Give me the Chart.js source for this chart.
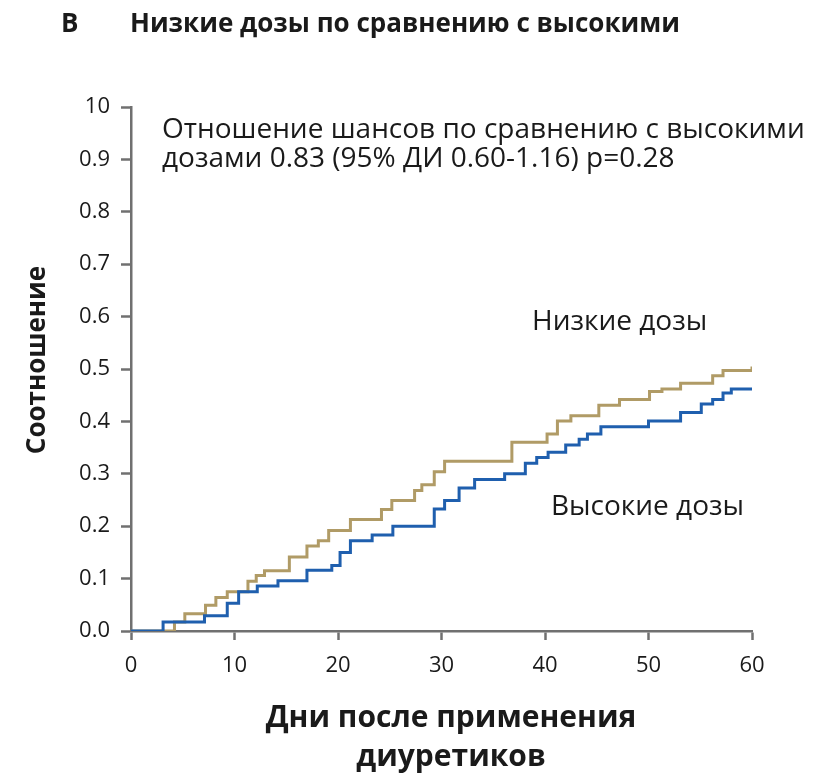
<!DOCTYPE html>
<html>
<head>
<meta charset="utf-8">
<script src="https://cdn.jsdelivr.net/npm/chart.js@4.4.1/dist/chart.umd.min.js"></script>
<style>
  html, body { margin: 0; padding: 0; background: #ffffff; }
  #wrap { width: 833px; height: 779px; position: relative; }
</style>
</head>
<body>
<div id="wrap"><canvas id="chart" width="833" height="779"></canvas></div>
<script>
// Cumulative proportion by day: each point marks the day the curve steps up and its new level.
const highDoseDays = [0, 3.1, 7.1, 9.3, 10.4, 12.2, 14.2, 17.0, 19.4, 20.2, 21.2, 23.3, 25.3, 29.3, 30.3, 31.7, 33.2, 36.1, 38.1, 39.2, 40.3, 42.0, 43.3, 44.1, 45.4, 50.0, 53.1, 55.1, 56.2, 57.2, 58.0, 60];
const highDoseRate = [0, 0.017, 0.029, 0.053, 0.075, 0.086, 0.096, 0.116, 0.125, 0.150, 0.172, 0.183, 0.200, 0.233, 0.249, 0.273, 0.289, 0.300, 0.320, 0.331, 0.341, 0.355, 0.366, 0.376, 0.390, 0.401, 0.417, 0.433, 0.442, 0.454, 0.462, 0.462];

const lowDoseDays = [0, 4.2, 5.2, 7.2, 8.2, 9.3, 11.3, 12.1, 12.9, 15.3, 17.0, 18.1, 19.1, 21.2, 24.2, 25.2, 27.4, 28.1, 29.3, 30.3, 36.8, 40.2, 41.2, 42.5, 45.2, 47.2, 50.1, 51.3, 53.1, 56.2, 57.2, 60];
const lowDoseRate = [0, 0.017, 0.033, 0.049, 0.064, 0.075, 0.095, 0.106, 0.115, 0.141, 0.162, 0.172, 0.192, 0.213, 0.232, 0.249, 0.268, 0.279, 0.304, 0.324, 0.360, 0.376, 0.401, 0.411, 0.431, 0.442, 0.457, 0.462, 0.473, 0.487, 0.497, 0.505];

const xTickLabels = ['0', '10', '20', '30', '40', '50', '60'];
const yTickLabels = ['0.0', '0.1', '0.2', '0.3', '0.4', '0.5', '0.6', '0.7', '0.8', '0.9', '10'];

const seriesNames = ['Высокие дозы', 'Низкие дозы'];
const panelLetter = 'B';
const panelTitle = 'Низкие дозы по сравнению с высокими';
const oddsText = ['Отношение шансов по сравнению с высокими', 'дозами 0.83 (95% ДИ 0.60-1.16) p=0.28'];
const xTitle = ['Дни после применения', 'диуретиков'];
const yTitle = 'Соотношение';

const BLUE = '#1f5fae';
const TAN = '#b09b66';
const AXIS = '#707070';
const FONT = '"Open Sans", "Noto Sans", sans-serif';

const toPoints = (days, rates) => days.map((d, i) => ({ x: d, y: rates[i] }));

// Headings, axis titles and in-plot notes
const textPlugin = {
  id: 'textLayer',
  afterDraw(chart) {
    const ctx = chart.ctx;
    ctx.save();
    ctx.fillStyle = '#1a1a1a';
    ctx.textBaseline = 'middle';

    ctx.font = 'bold 26px ' + FONT;
    ctx.textAlign = 'left';
    ctx.fillText(panelLetter, 61, 25);
    ctx.fillText(panelTitle, 130, 25);

    ctx.font = '28px ' + FONT;
    ctx.fillText(oddsText[0], 162, 130);
    ctx.fillText(oddsText[1], 162, 159);

    ctx.fillText(seriesNames[1], 532, 322);
    ctx.fillText(seriesNames[0], 551, 507);

    ctx.font = 'bold 30px ' + FONT;
    ctx.textAlign = 'center';
    ctx.fillText(xTitle[0], 451, 718);
    ctx.fillText(xTitle[1], 451, 757);

    ctx.save();
    ctx.translate(38, 360);
    ctx.rotate(-Math.PI / 2);
    ctx.font = 'bold 26px ' + FONT;
    ctx.fillText(yTitle, 0, 0);
    ctx.restore();

    ctx.restore();
  }
};

new Chart(document.getElementById('chart'), {
  type: 'line',
  data: {
    datasets: [
      {
        label: seriesNames[0],
        data: toPoints(highDoseDays, highDoseRate),
        borderColor: BLUE,
        borderWidth: 3,
        stepped: 'before',
        pointRadius: 0,
        fill: false
      },
      {
        label: seriesNames[1],
        data: toPoints(lowDoseDays, lowDoseRate),
        borderColor: TAN,
        borderWidth: 3,
        stepped: 'before',
        pointRadius: 0,
        fill: false
      }
    ]
  },
  options: {
    responsive: false,
    devicePixelRatio: 1,
    animation: false,
    layout: { padding: { top: 107, right: 81, left: 0, bottom: 0 } },
    plugins: {
      legend: { display: false },
      tooltip: { enabled: false }
    },
    scales: {
      x: {
        type: 'linear',
        min: 0,
        max: 60,
        afterFit(scale) { scale.height = 148; },
        border: { display: true, color: AXIS, width: 2.5 },
        grid: { drawOnChartArea: false, drawTicks: true, tickLength: 9, tickColor: AXIS, tickWidth: 2.5 },
        ticks: {
          stepSize: 10,
          padding: 13,
          color: '#1a1a1a',
          font: { family: FONT, size: 22 },
          maxRotation: 0,
          callback: (v) => xTickLabels[Math.round(v / 10)]
        }
      },
      y: {
        type: 'linear',
        min: 0,
        max: 1,
        afterFit(scale) { scale.width = 131; },
        border: { display: true, color: AXIS, width: 2.5 },
        grid: { drawOnChartArea: false, drawTicks: true, tickLength: 10, tickColor: AXIS, tickWidth: 2.5 },
        ticks: {
          stepSize: 0.1,
          padding: 11,
          color: '#1a1a1a',
          font: { family: FONT, size: 22 },
          callback: (v) => yTickLabels[Math.round(v * 10)]
        }
      }
    }
  },
  plugins: [textPlugin]
});
</script>
</body>
</html>
